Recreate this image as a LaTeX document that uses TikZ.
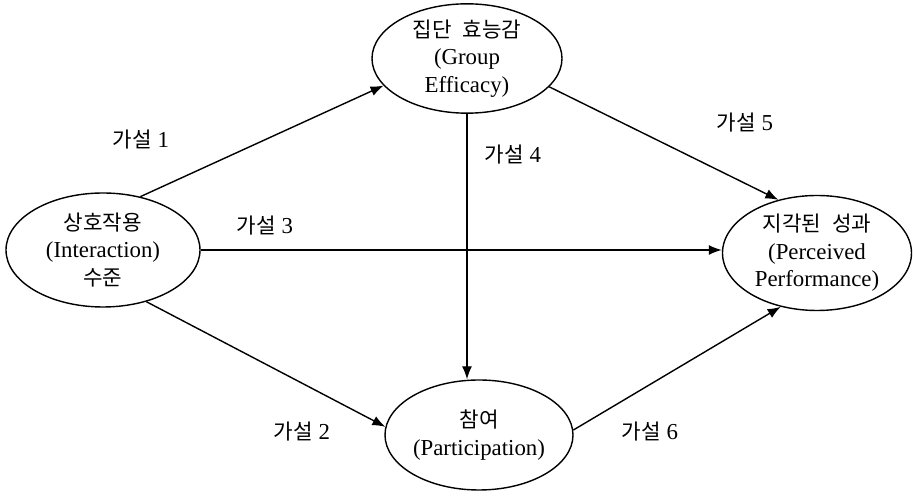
\documentclass[tikz,border=0pt]{standalone}
\usepackage{fontspec}
\setmainfont{Liberation Serif}
\newfontfamily\kr[Scale=0.93]{Noto Sans CJK KR}
\usetikzlibrary{shapes.geometric,arrows.meta}

\begin{document}
\begin{tikzpicture}[
    var/.style={ellipse,draw,thick,inner sep=0pt,align=center,font=\fontsize{13}{15.6}\selectfont},
    hyp/.style={font=\fontsize{13}{15.6}\selectfont},
    hyparrow/.style={thick,-{Latex[length=2.6mm,width=2mm]}}
  ]
  \useasboundingbox (0,0) rectangle (18.26,-9.94);
  % variables
  \node[var,minimum width=3.88cm,minimum height=2.28cm] (inter) at (2.06,-5.0) {{\kr 상호작용}\\(Interaction)\\{\kr 수준}};
  \node[var,minimum width=3.8cm,minimum height=2.1cm] (grp) at (9.34,-1.17) {{\kr 집단\hspace{0.5em}효능감}\\(Group\\Efficacy)};
  \node[var,minimum width=3.76cm,minimum height=2.2cm] (part) at (9.58,-8.7) {{\kr 참여}\\(Participation)};
  \node[var,minimum width=3.78cm,minimum height=2.3cm] (perf) at (16.34,-5.06) {{\kr 지각된\hspace{0.5em}성과}\\(Perceived\\Performance)};
  % hypotheses
  \draw[hyparrow] (inter.55) -- (grp.198);
  \draw[hyparrow] (inter.east) -- (inter.east -| perf.west);
  \draw[hyparrow] (inter.-50) -- (part.175);
  \draw[hyparrow] (grp.south) -- (grp.south |- part.north);
  \draw[hyparrow] (grp.-19) -- (perf.126);
  \draw[hyparrow] (part.3) -- (perf.-124);
  \node[hyp] (h1) at (2.82,-2.8) {{\kr 가설} 1};
  \node[hyp] (h3) at (5.3,-4.52) {{\kr 가설} 3};
  \node[hyp] (h2) at (6.04,-8.64) {{\kr 가설} 2};
  \node[hyp] (h4) at (10.26,-3.1) {{\kr 가설} 4};
  \node[hyp] (h5) at (14.9,-2.46) {{\kr 가설} 5};
  \node[hyp] (h6) at (13.0,-8.64) {{\kr 가설} 6};
\end{tikzpicture}
\end{document}
